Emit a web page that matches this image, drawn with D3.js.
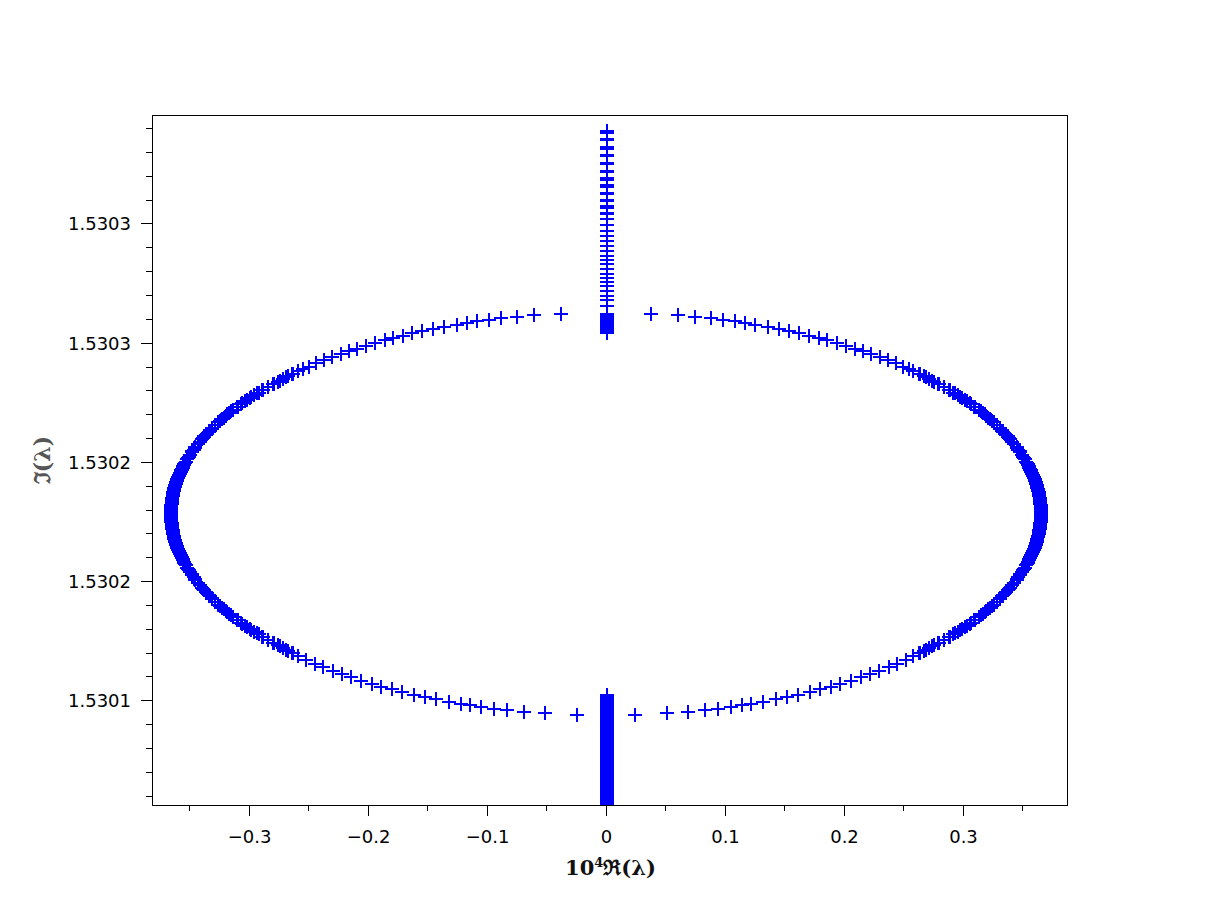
<!DOCTYPE html>
<html><head><meta charset="utf-8">
<script src="https://cdn.jsdelivr.net/npm/d3@7"></script>
<style>body{margin:0;background:#fff;} svg{display:block;}</style>
</head><body><svg id="chart" width="1220" height="920"></svg>
<script>
// ---- data (Re scaled by 1e4, Im) ----
const upperRightRe = [0.0378,0.0601,0.0752,0.0882,0.0987,0.1088,0.1172,0.1256,0.1361,0.1454,0.1542,0.1626,0.1706,0.1786,0.1861,0.1941,0.2013,0.2092,0.2160,0.2227,0.2303,0.2366,0.2433,0.2496,0.2550,
 0.2584,0.2629,0.2638,0.2673,0.2690,0.2716,0.2742,0.2758,0.2792,0.2800,
 0.2840,0.2880,0.2888,0.2919,0.2934,0.2957,0.2979,0.2994,0.3019,0.3030,
 0.3058,0.3065,0.3096,0.3100,0.3133,0.3149,0.3165,0.3181,0.3197,0.3212,
 0.3227,0.3242,0.3257,0.3282,0.3285,0.3307,0.3313,0.3331,0.3339,0.3354,
 0.3364,0.3377,0.3389,0.3396,0.3415,0.3432,0.3450,0.3456,0.3466,0.3476,
 0.3482,0.3495,0.3508,0.3513,0.3520,0.3532,0.3539,0.3543,0.3546,0.3554,
 0.3558,0.3563,0.3567,0.3571,0.3575,0.3579,0.3583,0.3587,0.3590,0.3594,
 0.3597,0.3601,0.3604,0.3607,0.3610,0.3613,0.3616,0.3619,0.3621,0.3624,
 0.3626,0.3629,0.3631,0.3633,0.3635,0.3637,0.3639,0.3641,0.3642,0.3644,
 0.3645,0.3647,0.3648,0.3649,0.3650,0.3651,0.3652,0.3653,0.3653,0.3654,
 0.3654,0.3655,0.3655,0.3655];
const upperLeftRe = [-0.0378,-0.0601,-0.0752,-0.0882,-0.0987,-0.1088,-0.1172,-0.1256,-0.1361,-0.1454,-0.1542,-0.1626,-0.1706,-0.1786,-0.1861,-0.1941,-0.2013,-0.2092,-0.2160,-0.2227,-0.2303,-0.2366,-0.2433,-0.2496,-0.2550,
 -0.2584,-0.2629,-0.2638,-0.2673,-0.2690,-0.2716,-0.2742,-0.2758,-0.2792,-0.2800,
 -0.2840,-0.2880,-0.2888,-0.2919,-0.2934,-0.2957,-0.2979,-0.2994,-0.3019,-0.3030,
 -0.3058,-0.3065,-0.3096,-0.3100,-0.3133,-0.3149,-0.3165,-0.3181,-0.3197,-0.3212,
 -0.3227,-0.3242,-0.3257,-0.3282,-0.3285,-0.3307,-0.3313,-0.3331,-0.3339,-0.3354,
 -0.3364,-0.3377,-0.3389,-0.3396,-0.3415,-0.3432,-0.3450,-0.3456,-0.3466,-0.3476,
 -0.3482,-0.3495,-0.3508,-0.3513,-0.3520,-0.3532,-0.3539,-0.3543,-0.3546,-0.3554,
 -0.3558,-0.3563,-0.3567,-0.3571,-0.3575,-0.3579,-0.3583,-0.3587,-0.3590,-0.3594,
 -0.3597,-0.3601,-0.3604,-0.3607,-0.3610,-0.3613,-0.3616,-0.3619,-0.3621,-0.3624,
 -0.3626,-0.3629,-0.3631,-0.3633,-0.3635,-0.3637,-0.3639,-0.3641,-0.3642,-0.3644,
 -0.3645,-0.3647,-0.3648,-0.3649,-0.3650,-0.3651,-0.3652,-0.3653,-0.3653,-0.3654,
 -0.3654,-0.3655,-0.3655,-0.3655];
const upperIm = [1.5303122,1.5303116,1.5303109,1.5303102,1.5303096,1.5303089,1.5303082,1.5303076,1.5303066,1.5303058,1.5303048,1.5303039,1.5303030,1.5303020,1.5303010,1.5302998,1.5302988,1.5302975,1.5302964,1.5302953,1.5302939,1.5302927,1.5302913,1.5302900,1.5302888,
 1.5302880,1.5302870,1.5302868,1.5302859,1.5302855,1.5302848,1.5302841,1.5302837,1.5302828,1.5302826,
 1.5302815,1.5302803,1.5302801,1.5302791,1.5302787,1.5302780,1.5302772,1.5302768,1.5302759,1.5302755,
 1.5302746,1.5302743,1.5302732,1.5302731,1.5302718,1.5302712,1.5302706,1.5302699,1.5302693,1.5302686,
 1.5302680,1.5302673,1.5302667,1.5302655,1.5302654,1.5302643,1.5302640,1.5302631,1.5302627,1.5302619,
 1.5302613,1.5302607,1.5302600,1.5302596,1.5302585,1.5302574,1.5302563,1.5302558,1.5302551,1.5302544,
 1.5302540,1.5302530,1.5302521,1.5302516,1.5302511,1.5302501,1.5302495,1.5302491,1.5302488,1.5302481,
 1.5302476,1.5302472,1.5302468,1.5302464,1.5302459,1.5302455,1.5302451,1.5302446,1.5302442,1.5302438,
 1.5302433,1.5302429,1.5302425,1.5302420,1.5302416,1.5302412,1.5302407,1.5302403,1.5302398,1.5302394,
 1.5302390,1.5302385,1.5302381,1.5302377,1.5302372,1.5302368,1.5302363,1.5302359,1.5302355,1.5302350,
 1.5302346,1.5302341,1.5302337,1.5302333,1.5302328,1.5302324,1.5302319,1.5302315,1.5302310,1.5302306,
 1.5302302,1.5302297,1.5302293,1.5302288];

const lowerRightRe = [0.0244,0.0513,0.0685,0.0832,0.0941,0.1050,0.1143,0.1218,0.1319,0.1429,0.1521,0.1613,0.1714,0.1798,0.1891,0.1966,0.2059,0.2139,0.2218,0.2298,0.2378,0.2445,0.2521,
 0.2584,0.2629,0.2638,0.2673,0.2690,0.2716,0.2742,0.2758,0.2792,0.2800,
 0.2840,0.2880,0.2888,0.2919,0.2934,0.2957,0.2979,0.2994,0.3019,0.3030,
 0.3058,0.3065,0.3096,0.3100,0.3133,0.3149,0.3165,0.3181,0.3197,0.3212,
 0.3227,0.3242,0.3257,0.3282,0.3285,0.3307,0.3313,0.3331,0.3339,0.3354,
 0.3364,0.3377,0.3389,0.3396,0.3415,0.3432,0.3450,0.3456,0.3466,0.3476,
 0.3482,0.3495,0.3508,0.3513,0.3520,0.3532,0.3539,0.3543,0.3546,0.3554,
 0.3558,0.3563,0.3567,0.3571,0.3575,0.3579,0.3583,0.3587,0.3590,0.3594,
 0.3597,0.3601,0.3604,0.3607,0.3610,0.3613,0.3616,0.3619,0.3621,0.3624,
 0.3626,0.3629,0.3631,0.3633,0.3635,0.3637,0.3639,0.3641,0.3642,0.3644,
 0.3645,0.3647,0.3648,0.3649,0.3650,0.3651,0.3652,0.3653,0.3653,0.3654,
 0.3654,0.3655,0.3655,0.3655];
const lowerLeftRe = [-0.0244,-0.0513,-0.0685,-0.0832,-0.0941,-0.1050,-0.1143,-0.1218,-0.1319,-0.1429,-0.1521,-0.1613,-0.1714,-0.1798,-0.1891,-0.1966,-0.2059,-0.2139,-0.2218,-0.2298,-0.2378,-0.2445,-0.2521,
 -0.2584,-0.2629,-0.2638,-0.2673,-0.2690,-0.2716,-0.2742,-0.2758,-0.2792,-0.2800,
 -0.2840,-0.2880,-0.2888,-0.2919,-0.2934,-0.2957,-0.2979,-0.2994,-0.3019,-0.3030,
 -0.3058,-0.3065,-0.3096,-0.3100,-0.3133,-0.3149,-0.3165,-0.3181,-0.3197,-0.3212,
 -0.3227,-0.3242,-0.3257,-0.3282,-0.3285,-0.3307,-0.3313,-0.3331,-0.3339,-0.3354,
 -0.3364,-0.3377,-0.3389,-0.3396,-0.3415,-0.3432,-0.3450,-0.3456,-0.3466,-0.3476,
 -0.3482,-0.3495,-0.3508,-0.3513,-0.3520,-0.3532,-0.3539,-0.3543,-0.3546,-0.3554,
 -0.3558,-0.3563,-0.3567,-0.3571,-0.3575,-0.3579,-0.3583,-0.3587,-0.3590,-0.3594,
 -0.3597,-0.3601,-0.3604,-0.3607,-0.3610,-0.3613,-0.3616,-0.3619,-0.3621,-0.3624,
 -0.3626,-0.3629,-0.3631,-0.3633,-0.3635,-0.3637,-0.3639,-0.3641,-0.3642,-0.3644,
 -0.3645,-0.3647,-0.3648,-0.3649,-0.3650,-0.3651,-0.3652,-0.3653,-0.3653,-0.3654,
 -0.3654,-0.3655,-0.3655,-0.3655];
const lowerIm = [1.5301439,1.5301445,1.5301452,1.5301459,1.5301465,1.5301473,1.5301479,1.5301485,1.5301494,1.5301504,1.5301513,1.5301524,1.5301535,1.5301546,1.5301558,1.5301569,1.5301583,1.5301596,1.5301610,1.5301624,1.5301640,1.5301653,1.5301670,
 1.5301688,1.5301698,1.5301700,1.5301709,1.5301713,1.5301720,1.5301727,1.5301731,1.5301740,1.5301742,
 1.5301753,1.5301765,1.5301767,1.5301777,1.5301781,1.5301788,1.5301796,1.5301800,1.5301809,1.5301813,
 1.5301822,1.5301825,1.5301836,1.5301837,1.5301850,1.5301856,1.5301862,1.5301869,1.5301875,1.5301882,
 1.5301888,1.5301895,1.5301901,1.5301913,1.5301914,1.5301925,1.5301928,1.5301937,1.5301941,1.5301949,
 1.5301955,1.5301961,1.5301968,1.5301972,1.5301983,1.5301994,1.5302005,1.5302010,1.5302017,1.5302024,
 1.5302028,1.5302038,1.5302047,1.5302052,1.5302057,1.5302067,1.5302073,1.5302077,1.5302080,1.5302087,
 1.5302092,1.5302096,1.5302100,1.5302104,1.5302109,1.5302113,1.5302117,1.5302122,1.5302126,1.5302130,
 1.5302135,1.5302139,1.5302143,1.5302148,1.5302152,1.5302156,1.5302161,1.5302165,1.5302170,1.5302174,
 1.5302178,1.5302183,1.5302187,1.5302191,1.5302196,1.5302200,1.5302205,1.5302209,1.5302213,1.5302218,
 1.5302222,1.5302227,1.5302231,1.5302235,1.5302240,1.5302244,1.5302249,1.5302253,1.5302258,1.5302262,
 1.5302266,1.5302271,1.5302275,1.5302280];

const columnRe = 0.0005;
const topColumnIm = [1.5303887,1.5303881,1.5303855,1.5303849,1.5303820,1.5303814,1.5303788,1.5303782,1.5303754,1.5303748,1.5303722,1.5303716,1.5303690,1.5303684,1.5303660,1.5303654,1.5303628,1.5303622,1.5303600,1.5303594,1.5303572,1.5303566,1.5303545,1.5303539,1.5303518,1.5303492,1.5303470,1.5303446,1.5303425,1.5303404,1.5303385,1.5303364,1.5303346,1.5303329,1.5303308,1.5303290,1.5303273,1.5303255,1.5303238,1.5303217,1.5303196,1.5303178,1.5303154,
 1.5303119,1.5303113,1.5303107,1.5303100,1.5303094,1.5303088,1.5303081,1.5303075,1.5303069,1.5303063,1.5303056,1.5303050,1.5303044,1.5303039];
const bottomColumnIm = [1.5301521,1.5301513,1.5301504,1.5301496,1.5301487,1.5301479,1.5301471,1.5301462,1.5301454,1.5301445,1.5301437,1.5301429,1.5301420,1.5301412,1.5301404,1.5301395,1.5301387,1.5301378,1.5301370,1.5301362,1.5301353,1.5301345,1.5301336,1.5301328,1.5301320,1.5301311,1.5301303,1.5301294,1.5301286,1.5301278,1.5301269,1.5301261,1.5301253,1.5301244,1.5301236,1.5301227,1.5301219,1.5301211,1.5301202,1.5301194,1.5301185,1.5301177,1.5301169,1.5301160,1.5301152,1.5301143,1.5301135,1.5301127,1.5301118,1.5301110,1.5301102,1.5301093,1.5301085,1.5301076,1.5301068,1.5301060,1.5301051,1.5301043,1.5301035];

const xTicks = [-0.3,-0.2,-0.1,0,0.1,0.2,0.3];
const xTickLabels = ["\u22120.3","\u22120.2","\u22120.1","0","0.1","0.2","0.3"];
const xMinorTicks = [-0.35,-0.25,-0.15,-0.05,0.05,0.15,0.25,0.35];
const yTicks = [1.53015,1.5302,1.53025,1.5303,1.53035];
const yTickLabels = ["1.5301","1.5302","1.5302","1.5303","1.5303"];
const yMinorTicks = [1.53011,1.53012,1.53013,1.53014,1.53016,1.53017,1.53018,1.53019,1.53021,1.53022,1.53023,1.53024,1.53026,1.53027,1.53028,1.53029,1.53031,1.53032,1.53033,1.53034,1.53036,1.53037,1.53038,1.53039];
const xDomain = [-0.3815, 0.3874];
const yDomain = [1.5301061, 1.5303955];

// ---- drawing ----
const svg = d3.select('#chart');
const L = 152, R = 1067, T = 115, B = 805;
const x = d3.scaleLinear().domain(xDomain).range([L, R]);
const y = d3.scaleLinear().domain(yDomain).range([B, T]);

svg.append('rect').attr('width',1220).attr('height',920).attr('fill','#fff');
svg.append('defs').append('clipPath').attr('id','clip')
  .append('rect').attr('x',L).attr('y',T).attr('width',R-L).attr('height',B-T);

const series = [
  {re: upperRightRe, im: upperIm},
  {re: upperLeftRe, im: upperIm},
  {re: lowerRightRe, im: lowerIm},
  {re: lowerLeftRe, im: lowerIm},
  {re: topColumnIm.map(() => columnRe), im: topColumnIm},
  {re: bottomColumnIm.map(() => columnRe), im: bottomColumnIm}
];
const pts = [];
series.forEach(s => s.re.forEach((r, i) => pts.push([r, s.im[i]])));

const g = svg.append('g').attr('clip-path','url(#clip)');
g.selectAll('path.pt').data(pts).join('path')
  .attr('class','pt')
  .attr('d','M-7,0H7M0,-7V7')
  .attr('transform', d => `translate(${Math.round(x(d[0]))},${Math.round(y(d[1]))})`)
  .attr('stroke','#0000ff').attr('stroke-width',2).attr('fill','none')
  .attr('shape-rendering','crispEdges');

// axes
const fontFam = '"DejaVu Sans", sans-serif';
const xAxis = svg.append('g').attr('transform',`translate(0,${B})`)
  .call(d3.axisBottom(x).tickValues(xTicks).tickFormat((d,i)=>xTickLabels[i]).tickSize(11).tickSizeOuter(0));
xAxis.selectAll('text').attr('y',38).attr('dy',0);
const xMinor = svg.append('g').attr('transform',`translate(0,${B})`)
  .call(d3.axisBottom(x).tickValues(xMinorTicks).tickFormat('').tickSize(6).tickSizeOuter(0));
const yAxis = svg.append('g').attr('transform',`translate(${L},0)`)
  .call(d3.axisLeft(y).tickValues(yTicks).tickFormat((d,i)=>yTickLabels[i]).tickSize(11).tickPadding(10).tickSizeOuter(0));
yAxis.selectAll('text').attr('dy','0.36em');
const yMinor = svg.append('g').attr('transform',`translate(${L},0)`)
  .call(d3.axisLeft(y).tickValues(yMinorTicks).tickFormat('').tickSize(6).tickSizeOuter(0));
[xAxis,xMinor,yAxis,yMinor].forEach(a => {
  a.select('.domain').remove();
  a.selectAll('line').attr('stroke','#000').attr('stroke-width',1).attr('shape-rendering','crispEdges');
  a.selectAll('text').attr('font-family',fontFam).attr('font-size',18).attr('fill','#000');
});

svg.append('rect').attr('x',L).attr('y',T).attr('width',R-L).attr('height',B-T)
  .attr('fill','none').attr('stroke','#000').attr('stroke-width',1).attr('shape-rendering','crispEdges');

// titles
const xt = svg.append('text').attr('x',(L+R)/2+1).attr('y',875).attr('text-anchor','middle')
  .attr('font-family','"DejaVu Serif", serif').attr('font-weight','bold').attr('font-size',21).attr('fill','#111');
xt.append('tspan').text('10');
xt.append('tspan').attr('dy',-8).attr('font-size',13).text('4');
xt.append('tspan').attr('dy',8).text('\u211C(\u03BB)');

svg.append('text').attr('transform',`translate(50,${(T+B)/2}) rotate(-90)`).attr('text-anchor','middle')
  .attr('font-family','"DejaVu Serif", serif').attr('font-weight','bold').attr('font-size',22).attr('fill','#555')
  .text('\u2111(\u03BB)');
</script>
</body></html>
